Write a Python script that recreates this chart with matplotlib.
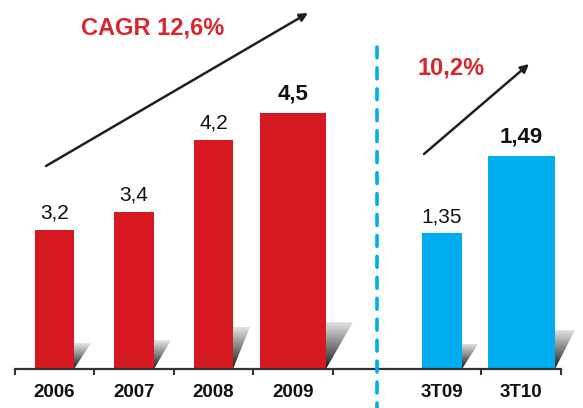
import numpy as np
import matplotlib
matplotlib.use('Agg')
import matplotlib.pyplot as plt
from matplotlib.patches import Polygon
from matplotlib.colors import LinearSegmentedColormap

#%% data
years = ['2006', '2007', '2008', '2009']
year_values = [3.2, 3.4, 4.2, 4.5]
year_labels = ['3,2', '3,4', '4,2', '4,5']

quarters = ['3T09', '3T10']
quarter_values = [1.35, 1.49]
quarter_labels = ['1,35', '1,49']

cagr_text = 'CAGR 12,6%'
growth_text = '10,2%'

#%% style
red = '#D61920'
blue = '#00ADEE'
dark = '#231F20'
text_red = '#D9262D'
shade = LinearSegmentedColormap.from_list('shade', ['#1a1a1a', '#e6e6e6'])

plt.rcParams['font.family'] = ['Liberation Sans', 'DejaVu Sans']

fig = plt.figure(figsize=(5.83, 4.08), dpi=100)
base = 39 / 408.
ax = fig.add_axes([0, base, 1, 1 - base])
ax2 = ax.twinx()

# both groups start above zero (value axis is cut)
red_lim = (1.66, 5.76)
blue_lim = (1.103, 1.774)

x_red = np.arange(len(years))
x_blue = np.array([4.87, 5.87])
w_red = [0.5, 0.5, 0.5, 0.84]
w_blue = [0.5, 0.84]
grad = np.linspace(0, 1, 64).reshape(-1, 1)


def shadow(a, xr, lo, top, dx):
    # grey triangle at the right foot of a bar
    tri = Polygon([(xr, lo), (xr, top), (xr + dx, top)], closed=True,
                  facecolor='none', edgecolor='none')
    a.add_patch(tri)
    im = a.imshow(grad, cmap=shade, extent=(xr, xr + dx, lo, top),
                  origin='lower', aspect='auto', zorder=1)
    im.set_clip_path(tri)


# red bars (years)
ax.bar(x_red, year_values, width=w_red, color=red, zorder=2)
for x, v, w in zip(x_red, year_values, w_red):
    lo = red_lim[0]
    shadow(ax, x + w / 2., lo, lo + 0.185 * (v - lo), 0.21 if w < 0.6 else 0.33)
for i, (x, v, lbl) in enumerate(zip(x_red, year_values, year_labels)):
    last = i == len(years) - 1
    ax.annotate(lbl, (x, v), xytext=(0, 10 if last else 8.5), textcoords='offset points',
                ha='center', va='baseline', fontsize=16 if last else 15,
                fontweight='bold' if last else 'normal', color='#111111')

# blue bars (quarters)
ax2.bar(x_blue, quarter_values, width=w_blue, color=blue, zorder=2)
for x, v, w in zip(x_blue, quarter_values, w_blue):
    lo = blue_lim[0]
    shadow(ax2, x + w / 2., lo, lo + 0.185 * (v - lo), 0.21 if w < 0.6 else 0.26)
for i, (x, v, lbl) in enumerate(zip(x_blue, quarter_values, quarter_labels)):
    last = i == len(quarters) - 1
    ax2.annotate(lbl, (x, v), xytext=(0, 10 if last else 8), textcoords='offset points',
                 ha='center', va='baseline', fontsize=16 if last else 15,
                 fontweight='bold' if last else 'normal', color='#111111')

ax.set_xlim(-0.686, 6.648)
ax.set_ylim(*red_lim)
ax2.set_ylim(*blue_lim)

# category axis
edges = [-0.5, 0.5, 1.5, 2.5, 3.5, 5.37, 6.37]
ax.set_xticks(edges, labels=[''] * len(edges))
ax.set_xticks(list(x_red) + list(x_blue), labels=years + quarters, minor=True,
              fontsize=13.5, fontweight='bold')
ax.tick_params(axis='x', which='major', direction='out', length=4, width=1.5, color='#333333')
ax.tick_params(axis='x', which='minor', length=0, pad=11, labelcolor='#111111')
for s in ['left', 'right', 'top']:
    ax.spines[s].set_visible(False)
    ax2.spines[s].set_visible(False)
ax2.spines['bottom'].set_visible(False)
ax.spines['bottom'].set_bounds(-0.5, 6.37)
ax.spines['bottom'].set_linewidth(1.6)
ax.spines['bottom'].set_color('#333333')
ax.set_yticks([])
ax2.set_yticks([])
ax.set_zorder(2)
ax.patch.set_visible(False)
ax2.set_zorder(1)

# overlay in pixel units for arrows, notes and the divider
ov = fig.add_axes([0, 0, 1, 1])
ov.set_xlim(0, 583)
ov.set_ylim(408, 0)
ov.axis('off')
ov.set_zorder(3)

ov.plot([377, 377], [47, 410], color=blue, lw=2.6, dashes=(3.0, 2.8),
        dash_capstyle='round')
arrow = dict(arrowstyle='-|>', color=dark, lw=1.8, mutation_scale=12,
             shrinkA=0, shrinkB=0)
ov.annotate('', xy=(308, 13), xytext=(46, 166), arrowprops=arrow)
ov.annotate('', xy=(529, 64), xytext=(424, 154), arrowprops=arrow)
ov.text(153, 35, cagr_text, color=text_red, fontsize=17, fontweight='bold',
        ha='center', va='baseline')
ov.text(451, 75, growth_text, color=text_red, fontsize=17, fontweight='bold',
        ha='center', va='baseline')

fig.savefig('out.png', dpi=100)
